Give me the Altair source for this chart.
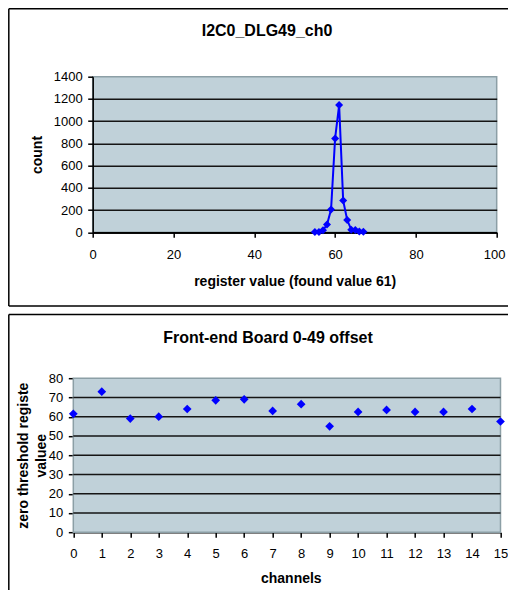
import altair as alt
import pandas as pd

# ---------------- data ----------------
reg_values = [55, 56, 57, 58, 59, 60, 61, 62, 63, 64, 65, 66, 67]
counts = [3, 2, 18, 70, 205, 845, 1145, 285, 110, 24, 20, 8, 5]

channels = [0, 1, 2, 3, 4, 5, 6, 7, 8, 9, 10, 11, 12, 13, 14, 15]
offsets = [61.5, 73, 59, 60, 64, 68.5, 69, 63, 66.5, 55, 62.5, 63.5, 62.5, 62.5, 64, 57.5]

top_x_ticks = [0, 20, 40, 60, 80, 100]
top_y_ticks = [0, 200, 400, 600, 800, 1000, 1200, 1400]
bot_y_ticks = [0, 10, 20, 30, 40, 50, 60, 70, 80]
bot_grid = [10, 20, 30, 40, 50, 60, 70]

top_title = "I2C0_DLG49_ch0"
top_xtitle = "register value (found value 61)"
top_ytitle = "count"
bot_title = "Front-end Board 0-49 offset"
bot_xtitle = "channels"
bot_ytitle = ["zero threshold registe", "valuee"]

# ---------------- style ----------------
FONT = "Liberation Sans"
BLUE = "#0000FF"
GRID = "#151515"
PLOT_BG = "#C0D1D9"
PLOT_EDGE = "#8C9FA6"
W1, H1 = 404, 155.6
SHIFT = 19.4            # bottom plot starts this much left of the top plot
W2, H2 = 407.8, 154     # bottom plot spans [-SHIFT, W2]
RIGHT = 416             # frame lines run to the right edge

one = pd.DataFrame({"k": [0]})


def rule(x1, x2, y1, y2):
    return alt.Chart(one).mark_rule(color="black", strokeWidth=1.5).encode(
        x=alt.value(x1), x2=alt.value(x2), y=alt.value(y1), y2=alt.value(y2)
    )


def title_text(txt, x, y):
    return alt.Chart(pd.DataFrame({"t": [txt]})).mark_text(
        font=FONT, fontSize=16, fontWeight="bold", align="center",
        baseline="middle", color="black"
    ).encode(x=alt.value(x), y=alt.value(y), text="t:N")


# ---------------- top panel ----------------
hist = pd.DataFrame({"reg": reg_values, "count": counts})

x1 = alt.X(
    "reg:Q",
    scale=alt.Scale(domain=[0, 100], nice=False, zero=False),
    axis=alt.Axis(
        values=top_x_ticks, grid=False, title=top_xtitle, format="d",
        titleX=W1 / 2, titleY=49.4, titleBaseline="middle",
        labelBaseline="middle", labelPadding=17.5,
        labelOffset={"condition": {"test": "datum.value == 100", "value": -2.5}, "value": 0},
    ),
)
y1 = alt.Y(
    "count:Q",
    scale=alt.Scale(domain=[0, 1400], nice=False),
    axis=alt.Axis(
        values=top_y_ticks, grid=True, title=top_ytitle, format="d",
        titleX=-55.7, titleY=H1 / 2, titleBaseline="middle", titleAngle=270,
        gridOpacity={"condition": {"test": "datum.value == 1400", "value": 0}, "value": 1},
    ),
)

top_line = alt.Chart(hist).mark_line(color=BLUE, strokeWidth=2).encode(x=x1, y=y1)
top_pts = alt.Chart(hist).mark_point(
    shape="diamond", filled=True, color=BLUE, size=64, opacity=1
).encode(x=x1, y=y1)

top = alt.layer(
    rule(-83.9, RIGHT, -68.0, -68.0),      # frame top
    rule(-83.9, -83.9, -68.0, 229.3),      # frame left
    rule(-83.9, RIGHT, 229.3, 229.3),      # frame bottom
    title_text(top_title, 174.3, -45.2),
    top_line,
    top_pts,
).properties(width=W1, height=H1)

# ---------------- bottom panel ----------------
offs = pd.DataFrame({"channel": channels, "offset": offsets})

x2 = alt.X(
    "channel:Q",
    scale=alt.Scale(domain=[0, 15], nice=False, zero=False, range=[-SHIFT, W2]),
    axis=alt.Axis(
        values=channels, grid=False, title=bot_xtitle, format="d",
        titleX=198.1, titleY=46.3, titleBaseline="middle",
        labelBaseline="middle", labelPadding=16.3,
    ),
)
y2 = alt.Y(
    "offset:Q",
    scale=alt.Scale(domain=[0, 80], nice=False),
    axis=alt.Axis(
        values=bot_y_ticks, grid=False, title=bot_ytitle, format="d",
        offset=SHIFT,
        titleX=-50.3, titleY=H2 / 2, titleBaseline="middle", titleAngle=270,
        titleLineHeight=18.7,
    ),
)

bot_bg = alt.Chart(one).mark_rect(
    fill=PLOT_BG, stroke=PLOT_EDGE, strokeWidth=1.5
).encode(x=alt.value(-SHIFT), x2=alt.value(W2), y=alt.value(0), y2=alt.value(H2))

bot_gridlines = alt.Chart(pd.DataFrame({"offset": bot_grid})).mark_rule(
    color=GRID, strokeWidth=1.5
).encode(y=y2, x=alt.value(-SHIFT), x2=alt.value(W2))

bot_pts = alt.Chart(offs).mark_point(
    shape="diamond", filled=True, color=BLUE, size=76, opacity=1
).encode(x=x2, y=y2)

bottom = alt.layer(
    rule(-83.9, RIGHT, -63.7, -63.7),      # frame top
    rule(-83.9, -83.9, -63.7, 212.0),      # frame left
    title_text(bot_title, 175.3, -40.0),
    bot_bg,
    bot_gridlines,
    bot_pts,
).properties(
    width=W2, height=H2,
    view=alt.ViewBackground(fillOpacity=0, strokeOpacity=0),
)

chart = (
    alt.vconcat(top, bottom, spacing=5.5)
    .properties(
        autosize=alt.AutoSizeParams(type="none"),
        padding={"left": 84.7, "top": 68.7, "right": 415.3, "bottom": 513},
        background="white",
    )
    .configure_view(fill=PLOT_BG, stroke=PLOT_EDGE, strokeWidth=1.5)
    .configure_axis(
        labelFont=FONT, labelFontSize=13, labelColor="black",
        labelFlush=False, labelOverlap=False, labelPadding=5.5,
        titleFont=FONT, titleFontSize=14, titleFontWeight="bold", titleColor="black",
        domainColor="black", domainWidth=1.5,
        tickColor="black", tickWidth=1.5, tickSize=5,
        gridColor=GRID, gridWidth=1.5,
    )
)

chart.save("out.html", embed_options={"renderer": "svg", "actions": False})
